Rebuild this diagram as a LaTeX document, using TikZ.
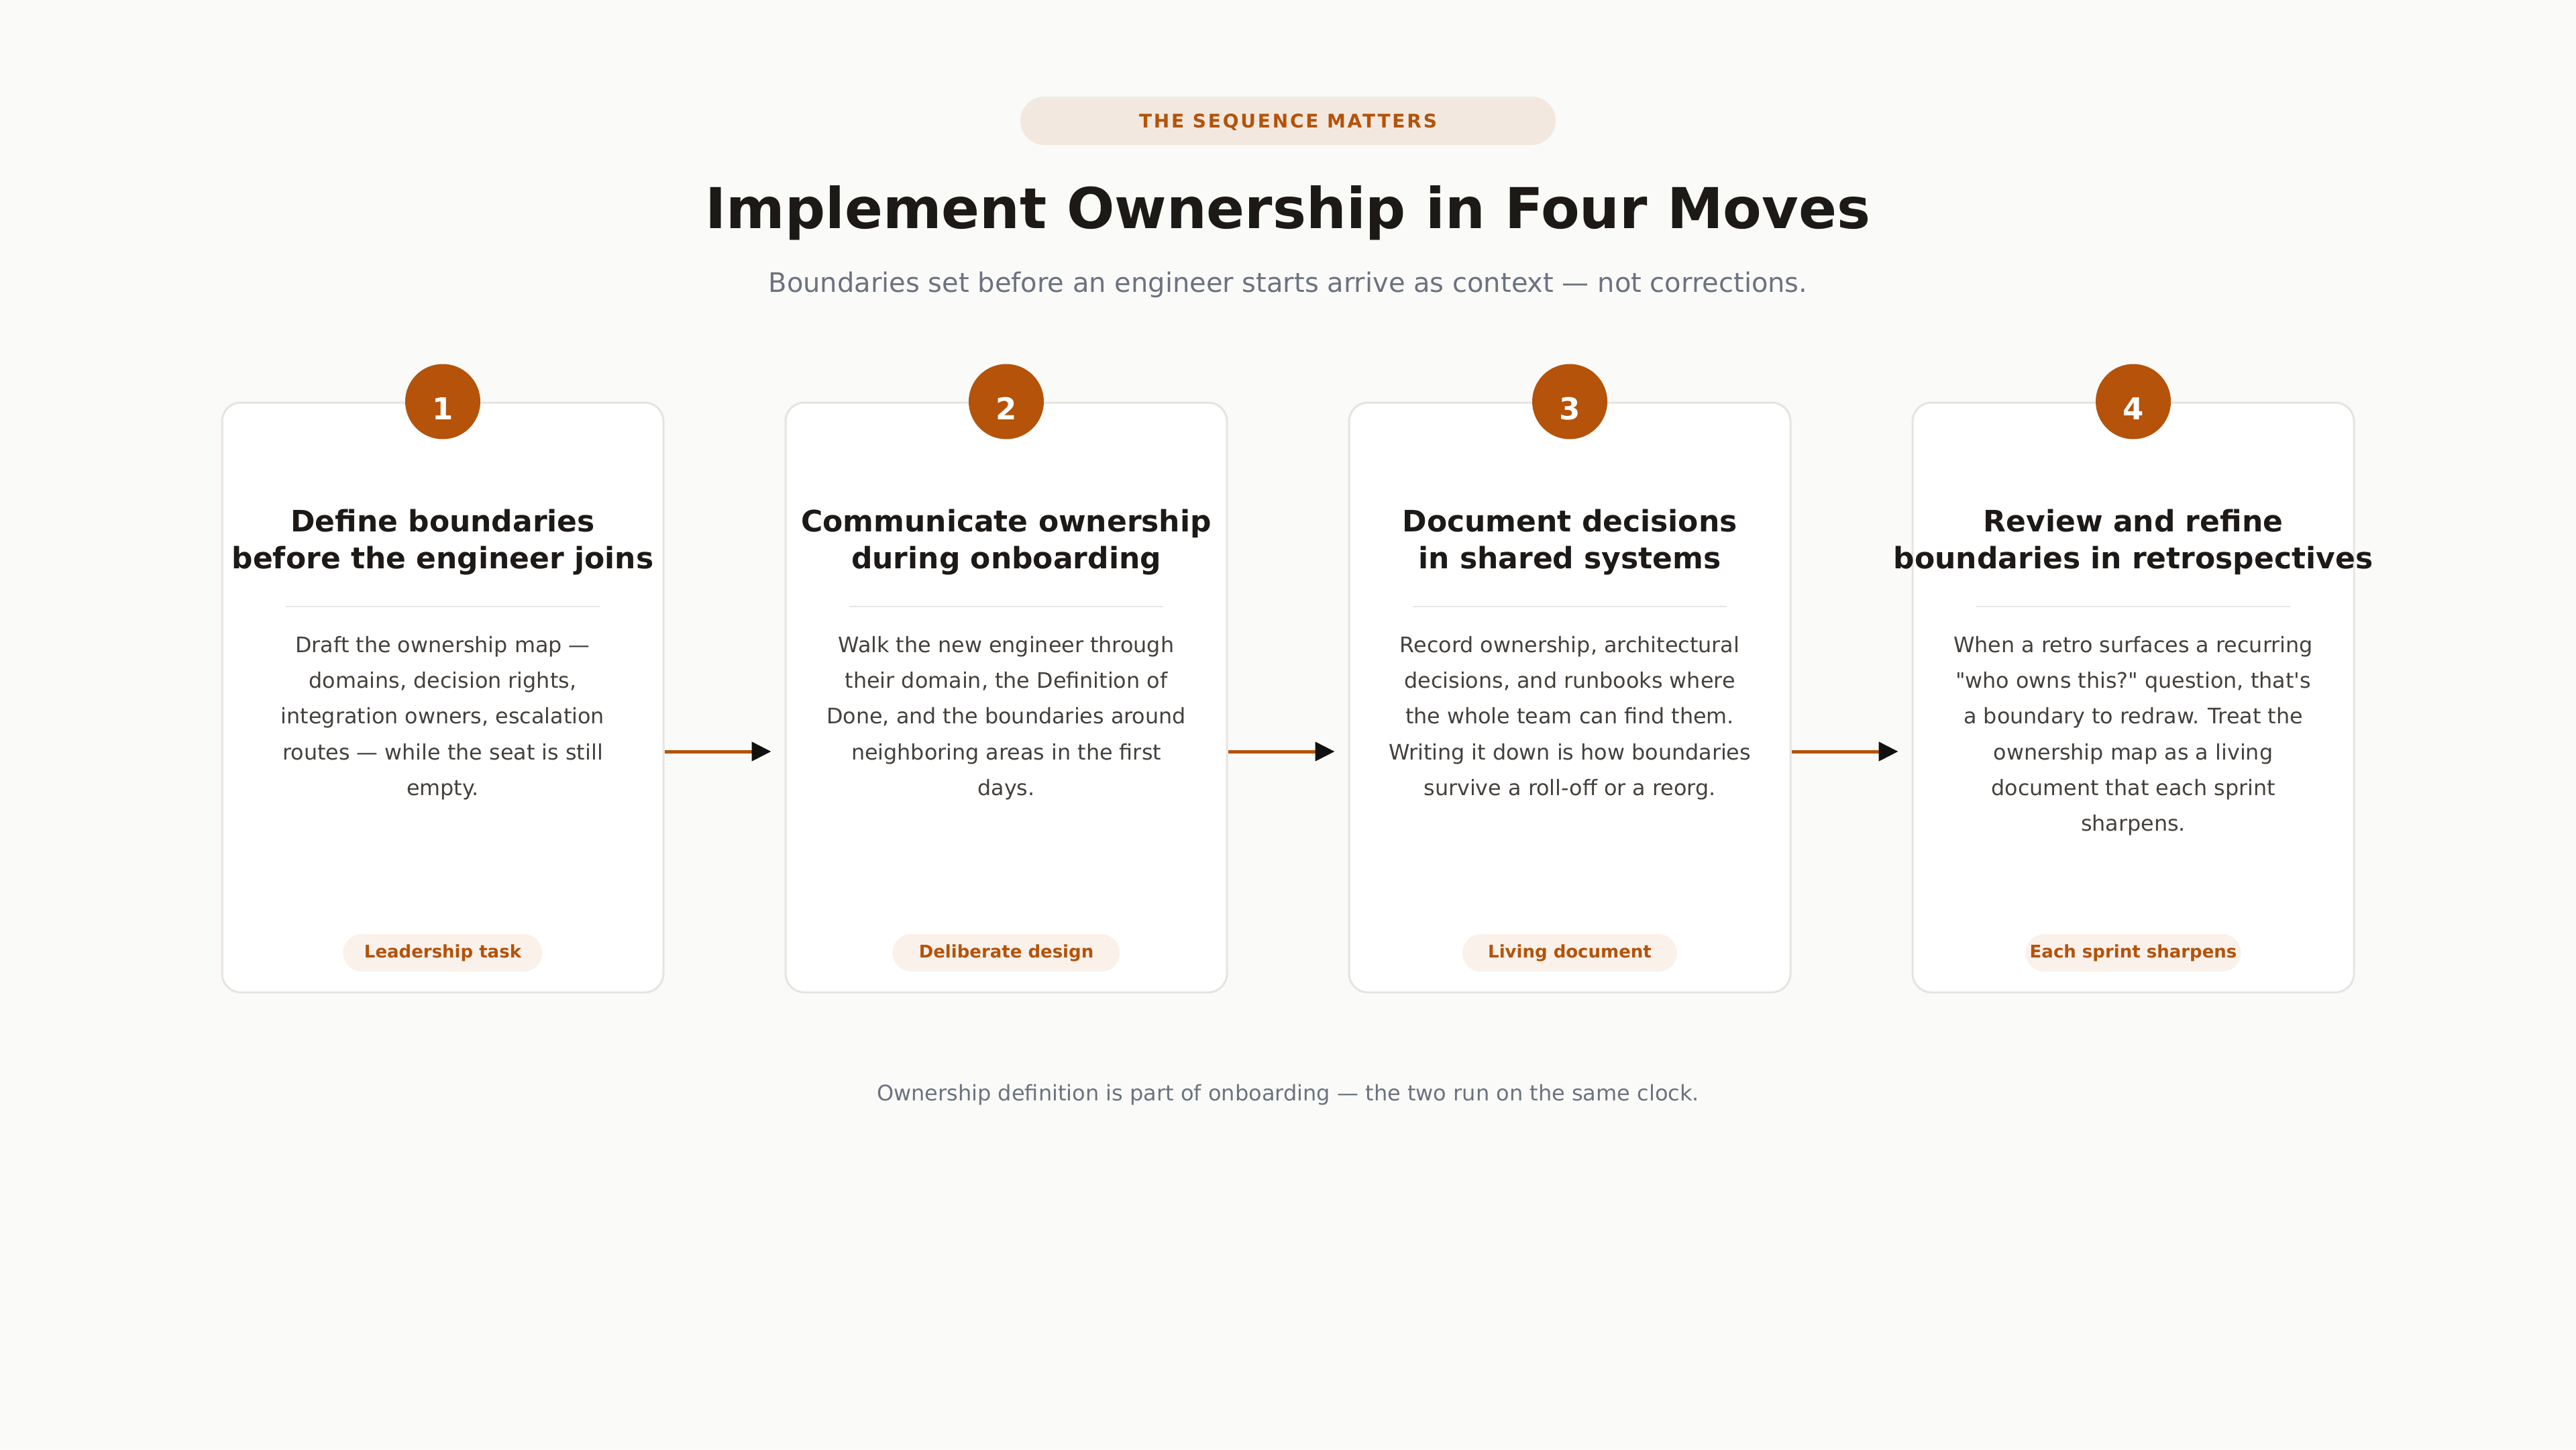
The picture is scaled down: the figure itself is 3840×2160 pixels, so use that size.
\documentclass[tikz,border=0pt]{standalone}
\usepackage{fontspec}
\setmainfont{DejaVu Sans}[Ligatures=TeXOff]
\newfontfamily\kickerfont{DejaVu Sans}[LetterSpace=10, Ligatures=TeXOff]
\usetikzlibrary{arrows.meta}

\definecolor{bgcol}{HTML}{FAFAF8}
\definecolor{cardline}{HTML}{E7E4E0}
\definecolor{accent}{HTML}{B45309}
\definecolor{pillfill}{HTML}{F3E8DF}
\definecolor{badgefill}{HTML}{FBF1EB}
\definecolor{inkcol}{HTML}{1C1917}
\definecolor{bodycol}{HTML}{44403C}
\definecolor{mutedcol}{HTML}{6B7280}
\definecolor{dividercol}{HTML}{E7E5E4}
\definecolor{tipcol}{HTML}{111111}

\begin{document}
\begin{tikzpicture}[x=1pt, y=-1pt,
        card/.style={draw=cardline, line width=3pt, fill=white, rounded corners=28pt,
            minimum width=658pt, minimum height=879pt, inner sep=0pt},
        stepnum/.style={circle, fill=accent, minimum size=112pt, inner sep=0pt, text=white,
            font=\fontsize{45}{45}\selectfont\bfseries, text height=54pt, text depth=0pt},
        steptitle/.style={anchor=north, inner sep=0pt, align=center, text=inkcol,
            font=\fontsize{44}{55}\selectfont\bfseries},
        stepbody/.style={anchor=north, inner sep=0pt, align=center, text=bodycol,
            font=\fontsize{31.8}{53.3}\selectfont},
        divider/.style={draw=dividercol, line width=2.5pt},
        badge/.style={fill=badgefill, rounded corners=28pt, minimum height=56pt,
            inner sep=0pt, text=accent,
            font=\fontsize{26}{26}\selectfont\bfseries, text height=20pt, text depth=6pt},
        flow/.style={draw=accent, line width=5pt,
            -{Triangle[length=29pt, width=28pt, color=tipcol]}, shorten >=20pt}
    ]
            \useasboundingbox (0, 0) rectangle (3840, 2160);
            \fill[bgcol] (0, 0) rectangle (3840, 2160);

            \node[fill=pillfill, rounded corners=36pt, minimum width=798pt, minimum height=72pt,
                inner sep=0pt, text=accent, font=\kickerfont\fontsize{28}{28}\selectfont\bfseries,
                text height=21pt, text depth=0pt] (kicker) at (1920, 180) {THE SEQUENCE MATTERS};
            \node[anchor=base, text=inkcol, font=\fontsize{84}{84}\selectfont\bfseries] (heading)
                at (1920, 340) {Implement Ownership in Four Moves};
            \node[anchor=base, text=mutedcol, font=\fontsize{40}{40}\selectfont] (subheading)
                at (1920, 435) {Boundaries set before an engineer starts arrive as context — not corrections.};

            \node[card] (card1) at (660, 1039.5) {};
            \node[card] (card2) at (1500, 1039.5) {};
            \node[card] (card3) at (2340, 1039.5) {};
            \node[card] (card4) at (3180, 1039.5) {};

            \node[stepnum] (num1) at (card1.north) {1};
            \node[stepnum] (num2) at (card2.north) {2};
            \node[stepnum] (num3) at (card3.north) {3};
            \node[stepnum] (num4) at (card4.north) {4};

            \node[steptitle] (title1) at (660, 759) {Define boundaries\\before the engineer joins};
            \node[steptitle] (title2) at (1500, 759) {Communicate ownership\\during onboarding};
            \node[steptitle] (title3) at (2340, 759) {Document decisions\\in shared systems};
            \node[steptitle] (title4) at (3180, 759) {Review and refine\\boundaries in retrospectives};

            \draw[divider] (426, 904) -- (894, 904);
            \draw[divider] (1266, 904) -- (1734, 904);
            \draw[divider] (2106, 904) -- (2574, 904);
            \draw[divider] (2946, 904) -- (3414, 904);

            \node[stepbody] (body1) at (660, 948) {Draft the ownership map —\\domains, decision rights,\\integration owners, escalation\\routes — while the seat is still\\empty.};
            \node[stepbody] (body2) at (1500, 948) {Walk the new engineer through\\their domain, the Definition of\\Done, and the boundaries around\\neighboring areas in the first\\days.};
            \node[stepbody] (body3) at (2340, 948) {Record ownership, architectural\\decisions, and runbooks where\\the whole team can find them.\\Writing it down is how boundaries\\survive a roll-off or a reorg.};
            \node[stepbody] (body4) at (3180, 948) {When a retro surfaces a recurring\\"who owns this?" question, that's\\a boundary to redraw. Treat the\\ownership map as a living\\document that each sprint\\sharpens.};

            \node[badge, minimum width=297pt] (badge1) at (660, 1420) {Leadership task};
            \node[badge, minimum width=339pt] (badge2) at (1500, 1420) {Deliberate design};
            \node[badge, minimum width=320pt] (badge3) at (2340, 1420) {Living document};
            \node[badge, minimum width=321pt] (badge4) at (3180, 1420) {Each sprint sharpens};

            \coordinate (flowrow) at (0, 1120);
            \draw[flow] (card1.east |- flowrow) -- (card2.west |- flowrow);
            \draw[flow] (card2.east |- flowrow) -- (card3.west |- flowrow);
            \draw[flow] (card3.east |- flowrow) -- (card4.west |- flowrow);

            \node[anchor=base, text=mutedcol, font=\fontsize{32}{32}\selectfont] (footnote)
                at (1920, 1640) {Ownership definition is part of onboarding — the two run on the same clock.};
        \end{tikzpicture}
\end{document}
